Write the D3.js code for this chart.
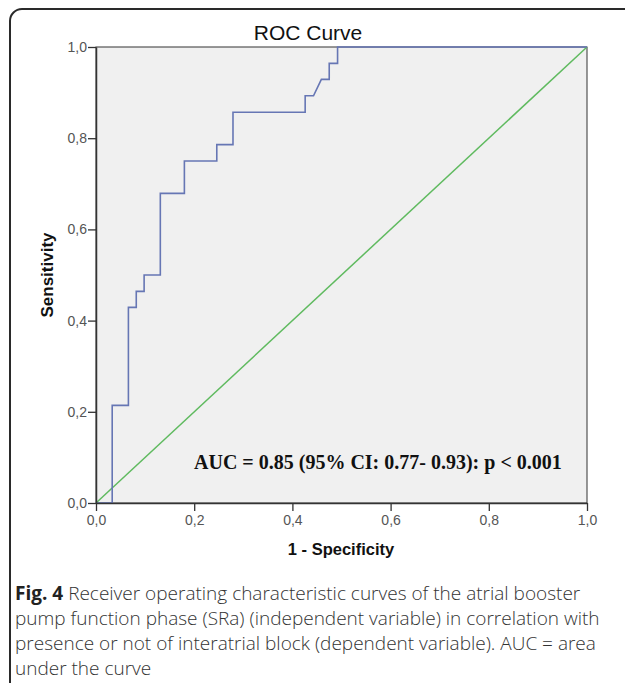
<!DOCTYPE html>
<html>
<head>
<meta charset="utf-8">
<script src="https://cdn.jsdelivr.net/npm/d3@7"></script>
<style>
body { margin: 0; background: #fff; }
svg { display: block; }
.axis path, .axis line { stroke: #333; }
.axis text { font-family: 'Liberation Sans', Arial, sans-serif; font-size: 14px; fill: #555; }
</style>
</head>
<body>
<script>
var width = 625,
	height = 683;

// ROC curve vertices
var fpr = [0, 0.033, 0.033, 0.066, 0.066, 0.082, 0.082, 0.098, 0.098, 0.131, 0.131,
	0.180, 0.180, 0.246, 0.246, 0.279, 0.279, 0.426, 0.426, 0.443, 0.459, 0.475,
	0.475, 0.492, 0.492, 1];
var sens = [0, 0, 0.214, 0.214, 0.429, 0.429, 0.464, 0.464, 0.500, 0.500, 0.679,
	0.679, 0.750, 0.750, 0.786, 0.786, 0.857, 0.857, 0.893, 0.893, 0.929, 0.929,
	0.964, 0.964, 1, 1];

// chance line
var refX = [0, 1],
	refY = [0, 1];

var ticks = [0, 0.2, 0.4, 0.6, 0.8, 1];

var captionLines = [
	'Receiver operating characteristic curves of the atrial booster',
	'pump function phase (SRa) (independent variable) in correlation with',
	'presence or not of interatrial block (dependent variable). AUC = area',
	'under the curve'
];

var plot = {
	left: 96,
	right: 587,
	top: 47,
	bottom: 503
};

var x = d3.scaleLinear().domain([0, 1]).range([plot.left, plot.right]);
var y = d3.scaleLinear().domain([0, 1]).range([plot.bottom, plot.top]);

var comma = function(d) {
	return d3.format('.1f')(d).replace('.', ',');
};

var svg = d3.select('body')
	.append('svg')
	.attr('width', width)
	.attr('height', height);

// figure frame (rounded, runs off right and bottom)
svg.append('rect')
	.attr('x', 10)
	.attr('y', 9)
	.attr('width', 700)
	.attr('height', 690)
	.attr('rx', 12)
	.attr('fill', 'none')
	.attr('stroke', '#2a2a2a')
	.attr('stroke-width', 2);

svg.append('text')
	.attr('x', 308)
	.attr('y', 40)
	.attr('text-anchor', 'middle')
	.style('font-family', "'Liberation Sans', Arial, sans-serif")
	.style('font-size', '21px')
	.style('fill', '#111')
	.text('ROC Curve');

svg.append('rect')
	.attr('x', plot.left)
	.attr('y', plot.top)
	.attr('width', plot.right - plot.left)
	.attr('height', plot.bottom - plot.top)
	.attr('fill', '#f0f0f0')
	.attr('stroke', '#333')
	.attr('stroke-width', 1);

var line = d3.line()
	.x(function(d) { return x(d[0]); })
	.y(function(d) { return y(d[1]); });

svg.append('path')
	.datum(d3.zip(refX, refY))
	.attr('d', line)
	.attr('fill', 'none')
	.attr('stroke', '#5fba5f')
	.attr('stroke-width', 1.5);

svg.append('path')
	.datum(d3.zip(fpr, sens))
	.attr('d', line)
	.attr('fill', 'none')
	.attr('stroke', '#6676b4')
	.attr('stroke-width', 1.6);

var xAxis = svg.append('g')
	.attr('class', 'axis')
	.attr('transform', 'translate(0,' + plot.bottom + ')')
	.call(d3.axisBottom(x).tickValues(ticks).tickFormat(comma).tickSize(8).tickSizeOuter(0).tickPadding(4));

var yAxis = svg.append('g')
	.attr('class', 'axis')
	.attr('transform', 'translate(' + plot.left + ',0)')
	.call(d3.axisLeft(y).tickValues(ticks).tickFormat(comma).tickSize(8).tickSizeOuter(0).tickPadding(1));

xAxis.select('.domain').attr('stroke-width', 1.5);
yAxis.select('.domain').attr('stroke-width', 1.5);
xAxis.selectAll('line').attr('stroke-width', 1.3);
yAxis.selectAll('line').attr('stroke-width', 1.3);

svg.append('text')
	.attr('x', 341)
	.attr('y', 555)
	.attr('text-anchor', 'middle')
	.style('font-family', "'Liberation Sans', Arial, sans-serif")
	.style('font-size', '16.5px')
	.style('font-weight', 'bold')
	.style('fill', '#111')
	.text('1 - Specificity');

svg.append('text')
	.attr('transform', 'translate(53,' + (plot.top + plot.bottom) / 2 + ') rotate(-90)')
	.attr('text-anchor', 'middle')
	.style('font-family', "'Liberation Sans', Arial, sans-serif")
	.style('font-size', '17px')
	.style('font-weight', 'bold')
	.style('fill', '#111')
	.text('Sensitivity');

svg.append('text')
	.attr('x', 194)
	.attr('y', 469)
	.style('font-family', "'Liberation Serif', 'Times New Roman', serif")
	.style('font-size', '20px')
	.style('font-weight', 'bold')
	.style('fill', '#111')
	.text('AUC = 0.85 (95% CI: 0.77- 0.93): p < 0.001');

// caption
var caption = svg.append('g')
	.style('font-family', "'Open Sans', sans-serif")
	.style('font-size', '19px')
	.style('font-weight', 300)
	.style('fill', '#333');

caption.selectAll('text')
	.data(captionLines)
	.enter()
	.append('text')
	.attr('x', 15)
	.attr('y', function(d, i) { return 600 + i * 25; })
	.each(function(d, i) {
		var t = d3.select(this);
		if (i == 0) {
			t.append('tspan')
				.style('font-weight', 'bold')
				.style('fill', '#222')
				.text('Fig. 4 ');
		}
		t.append('tspan').text(d);
	});
</script>
</body>
</html>
